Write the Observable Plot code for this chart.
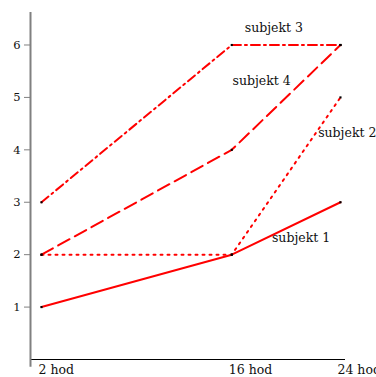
<!DOCTYPE html>
<html><head><meta charset="utf-8">
<script src="https://cdn.jsdelivr.net/npm/d3@7"></script>
<script src="https://cdn.jsdelivr.net/npm/@observablehq/plot@0.6"></script>
<style>body{margin:0;background:#fff}</style>
</head><body><div id="chart"></div>
<script>
const hours = [2, 16, 24];
const hourLabels = ["2 hod", "16 hod", "24 hod"];
const subjects = ["subjekt 1", "subjekt 2", "subjekt 3", "subjekt 4"];
const values1 = [1, 2, 3];
const values2 = [2, 2, 5];
const values3 = [3, 6, 6];
const values4 = [2, 4, 6];
const dashes = [null, "2,5", "9,4,2,4", "13,6"];
const labelX = [21.1, 24.5, 19.1, 18.2];
const labelY = [2.31, 4.33, 6.32, 5.32];
const yTicks = [1, 2, 3, 4, 5, 6];

const series = [values1, values2, values3, values4];
const rows = series.flatMap((vals, i) => vals.map((v, j) => ({subject: subjects[i], hour: hours[j], value: v, idx: i})));
const labels = subjects.map((s, i) => ({subject: s, x: labelX[i], y: labelY[i]}));
const xMin = 1.19, xMax = 24.37, yMax = 6.62;
const serif = "'DejaVu Serif', serif";

const lineMarks = series.map((vals, i) => Plot.line(rows.filter(r => r.idx === i), {
  x: "hour", y: "value", stroke: "red", strokeWidth: 2,
  strokeDasharray: dashes[i] || undefined
}));

const chart = Plot.plot({
  width: 376, height: 377,
  marginLeft: 30, marginRight: 31, marginTop: 12, marginBottom: 18,
  style: {background: "white", fontFamily: serif},
  x: {type: "linear", domain: [xMin, xMax], axis: null},
  y: {type: "linear", domain: [0, yMax], axis: null},
  marks: [
    Plot.ruleY([0], {stroke: "black", strokeWidth: 1.2}),
    Plot.ruleX([xMin], {y1: -0.15, y2: yMax, stroke: "#808080", strokeWidth: 2, clip: false}),
    Plot.axisY(yTicks, {anchor: "left", tickSize: 6, tickPadding: 4, stroke: "#808080", fontSize: 11.5, color: "#111", fontFamily: serif, tickFormat: d => String(d)}),
    Plot.axisX(hours, {anchor: "bottom", tickSize: 0, tickPadding: 6, textAnchor: "start", dx: -3, fontSize: 12.5, color: "#111", fontFamily: serif, tickFormat: d => hourLabels[hours.indexOf(d)]}),
    ...lineMarks,
    Plot.dot(rows, {x: "hour", y: "value", r: 1.2, fill: "black", symbol: "square"}),
    Plot.text(labels, {x: "x", y: "y", text: "subject", fontSize: 12.5, fill: "#111", fontFamily: serif})
  ]
});
document.getElementById("chart").append(chart);
</script>
</body></html>
